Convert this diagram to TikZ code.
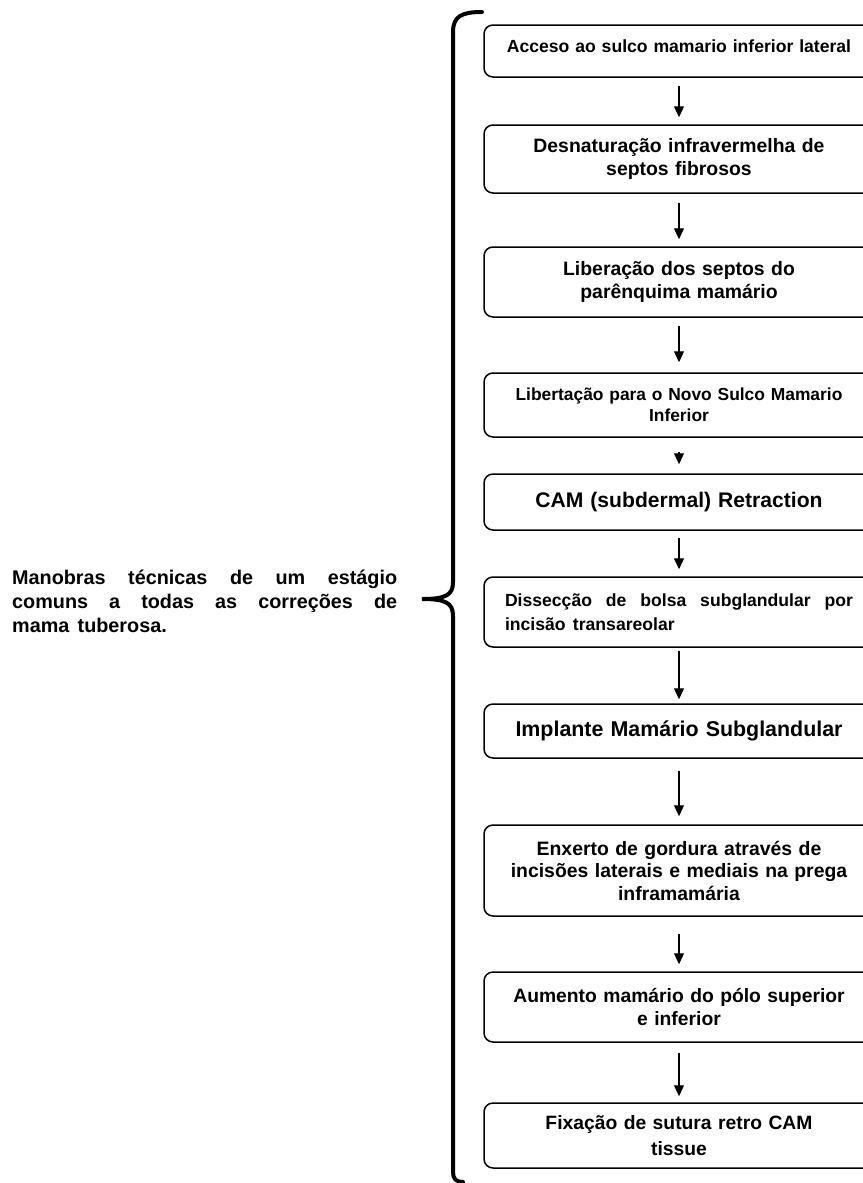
\documentclass[tikz,border=0pt]{standalone}
\usepackage{fontspec}
\setmainfont{Liberation Sans}[WordSpace=1.5]
\usetikzlibrary{arrows.meta}
\newcommand{\fs}[2]{\fontsize{#1}{#2}\selectfont}
\tikzset{
  stepbox/.style={draw, line width=1.5pt, rounded corners=9pt, minimum width=390pt, inner sep=0pt, align=center},
  arr/.style={line width=1.2pt, -{Triangle[width=10pt,length=11pt]}},
  brace/.style={line width=4pt, line cap=round}
}
\begin{document}
\begin{tikzpicture}[x=1pt,y=-1pt]
\useasboundingbox (0,0) rectangle (862,1183);
\fill[white] (0,0) rectangle (862,1183);
% boxes
\node[stepbox, minimum height=52pt, text width=380pt, text depth=10pt, font=\bfseries\fs{17.6}{21}] (b1) at (679,51) {Acceso ao sulco mamario inferior lateral};
\node[stepbox, minimum height=68pt, text width=360pt, font=\bfseries\fs{19.4}{23}] (b2) at (679,159) {Desnaturação infravermelha de\\septos fibrosos};
\node[stepbox, minimum height=70pt, text width=360pt, font=\bfseries\fs{19.4}{23.5}] (b3) at (679,282) {Liberação dos septos do\\parênquima mamário};
\node[stepbox, minimum height=64pt, text width=380pt, font=\bfseries\fs{17.4}{20.5}] (b4) at (679,405) {Libertação para o Novo Sulco Mamario\\Inferior};
\node[stepbox, minimum height=56pt, text width=360pt, font=\bfseries\fs{21.1}{25}] (b5) at (679,502) {CAM (subdermal) Retraction};
\node[stepbox, minimum height=70pt, text width=348pt, align=justify, font=\bfseries\fs{17.6}{24}] (b6) at (679,612) {Dissecção de bolsa subglandular por\linebreak incisão transareolar};
\node[stepbox, minimum height=54pt, text width=360pt, font=\bfseries\fs{21.4}{25}] (b7) at (679,731) {Implante Mamário Subglandular};
\node[stepbox, minimum height=91pt, text width=370pt, font=\bfseries\fs{19.4}{22.5}] (b8) at (679,870.5) {Enxerto de gordura através de\\incisões laterais e mediais na prega\\inframamária};
\node[stepbox, minimum height=70pt, text width=360pt, font=\bfseries\fs{19.3}{22.5}] (b9) at (679,1007) {Aumento mamário do pólo superior\\e inferior};
\node[stepbox, minimum height=65pt, text width=360pt, font=\bfseries\fs{19.3}{26}] (b10) at (679,1135.5) {Fixação de sutura retro CAM\\tissue};
% arrows
\draw[arr, shorten <=8pt, shorten >=7pt] (b1.south) -- (b2.north);
\draw[arr, shorten <=9pt, shorten >=7pt] (b2.south) -- (b3.north);
\draw[arr, shorten <=8pt, shorten >=10pt] (b3.south) -- (b4.north);
\draw[arr, shorten <=14pt, shorten >=9pt] (b4.south) -- (b5.north);
\draw[arr, shorten <=7pt, shorten >=7pt] (b5.south) -- (b6.north);
\draw[arr, shorten <=3pt, shorten >=4pt] (b6.south) -- (b7.north);
\draw[arr, shorten <=12pt, shorten >=8pt] (b7.south) -- (b8.north);
\draw[arr, shorten <=17pt, shorten >=7pt] (b8.south) -- (b9.north);
\draw[arr, shorten <=10pt, shorten >=6pt] (b9.south) -- (b10.north);
% brace
\coordinate (btop) at (482,12);
\coordinate (btip) at (422,599);
\coordinate (bbot) at (463,1182);
\draw[brace] (btop) .. controls (462,12) and (453,16) .. (453,32)
  -- (453,582) .. controls (453,595) and (446,599) .. (btip)
  .. controls (446,599) and (453,603) .. (453,616)
  -- (453,1172) .. controls (453,1179) and (456,1182) .. (bbot);
% left label
\node[anchor=west, text width=385pt, align=justify, inner sep=0pt, font=\bfseries\fs{19.8}{24}] (lab) at (12,601)
  {Manobras técnicas de um estágio\linebreak comuns a todas as correções de\linebreak mama tuberosa.};
\end{tikzpicture}
\end{document}
